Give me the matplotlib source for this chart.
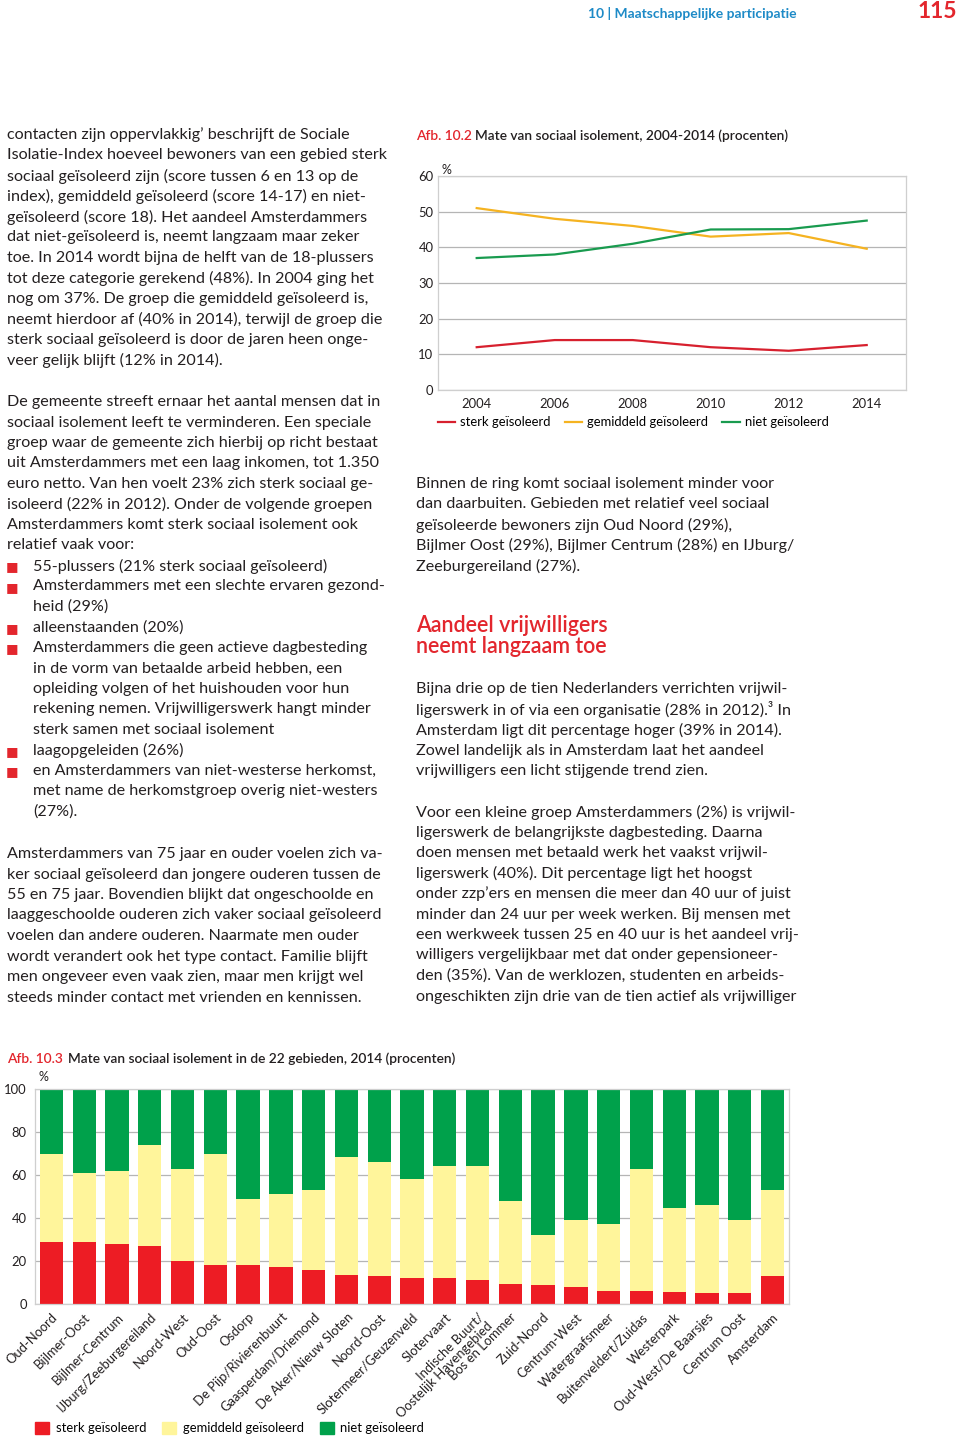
import matplotlib
matplotlib.use("Agg")
import matplotlib.pyplot as plt
from matplotlib.lines import Line2D
from matplotlib.patches import Patch

plt.rcParams['font.family'] = ['Lato', 'DejaVu Sans']

# ---- data: Afb. 10.2 ----
years = [2004, 2006, 2008, 2010, 2012, 2014]
sterk = [12, 14, 14, 12, 11, 12.6]
gemiddeld = [51, 48, 46, 43, 44, 39.6]
niet = [37, 38, 41, 45, 45.1, 47.5]

# ---- data: Afb. 10.3 ----
gebieden = ["Oud-Noord", "Bijlmer-Oost", "Bijlmer-Centrum", "IJburg/Zeeburgereiland",
            "Noord-West", "Oud-Oost", "Osdorp", "De Pijp/Rivierenbuurt",
            "Gaasperdam/Driemond", "De Aker/Nieuw Sloten", "Noord-Oost",
            "Slotermeer/Geuzenveld", "Slotervaart", "Indische Buurt/\nOostelijk Havengebied",
            "Bos en Lommer", "Zuid-Noord", "Centrum-West", "Watergraafsmeer",
            "Buitenveldert/Zuidas", "Westerpark", "Oud-West/De Baarsjes",
            "Centrum Oost", "Amsterdam"]
g_sterk = [29, 29, 28, 27, 20, 18, 18, 17, 16, 13.5, 13, 12, 12, 11, 9.5, 9, 8, 6, 6, 5.5, 5, 5, 13]
g_gem = [41, 32, 34, 47, 43, 52, 31, 34, 37, 55, 53, 46, 52, 53, 38.6, 23, 31, 31, 57, 39, 41, 34, 40]
g_niet = [30, 39, 38, 26, 37, 30, 51, 49, 47, 31.5, 34, 42, 36, 36, 51.9, 68, 61, 63, 37, 55.5, 54, 61, 47]

# ---- page text ----
left1 = ["contacten zijn oppervlakkig’ beschrijft de Sociale",
         "Isolatie-Index hoeveel bewoners van een gebied sterk",
         "sociaal geïsoleerd zijn (score tussen 6 en 13 op de",
         "index), gemiddeld geïsoleerd (score 14-17) en niet-",
         "geïsoleerd (score 18). Het aandeel Amsterdammers",
         "dat niet-geïsoleerd is, neemt langzaam maar zeker",
         "toe. In 2014 wordt bijna de helft van de 18-plussers",
         "tot deze categorie gerekend (48%). In 2004 ging het",
         "nog om 37%. De groep die gemiddeld geïsoleerd is,",
         "neemt hierdoor af (40% in 2014), terwijl de groep die",
         "sterk sociaal geïsoleerd is door de jaren heen onge-",
         "veer gelijk blijft (12% in 2014)."]
left2 = ["De gemeente streeft ernaar het aantal mensen dat in",
         "sociaal isolement leeft te verminderen. Een speciale",
         "groep waar de gemeente zich hierbij op richt bestaat",
         "uit Amsterdammers met een laag inkomen, tot 1.350",
         "euro netto. Van hen voelt 23% zich sterk sociaal ge-",
         "isoleerd (22% in 2012). Onder de volgende groepen",
         "Amsterdammers komt sterk sociaal isolement ook",
         "relatief vaak voor:"]
bullets = [["55-plussers (21% sterk sociaal geïsoleerd)"],
           ["Amsterdammers met een slechte ervaren gezond-", "heid (29%)"],
           ["alleenstaanden (20%)"],
           ["Amsterdammers die geen actieve dagbesteding",
            "in de vorm van betaalde arbeid hebben, een",
            "opleiding volgen of het huishouden voor hun",
            "rekening nemen. Vrijwilligerswerk hangt minder",
            "sterk samen met sociaal isolement"],
           ["laagopgeleiden (26%)"],
           ["en Amsterdammers van niet-westerse herkomst,",
            "met name de herkomstgroep overig niet-westers",
            "(27%)."]]
left3 = ["Amsterdammers van 75 jaar en ouder voelen zich va-",
         "ker sociaal geïsoleerd dan jongere ouderen tussen de",
         "55 en 75 jaar. Bovendien blijkt dat ongeschoolde en",
         "laaggeschoolde ouderen zich vaker sociaal geïsoleerd",
         "voelen dan andere ouderen. Naarmate men ouder",
         "wordt verandert ook het type contact. Familie blijft",
         "men ongeveer even vaak zien, maar men krijgt wel",
         "steeds minder contact met vrienden en kennissen."]
right1 = ["Binnen de ring komt sociaal isolement minder voor",
          "dan daarbuiten. Gebieden met relatief veel sociaal",
          "geïsoleerde bewoners zijn Oud Noord (29%),",
          "Bijlmer Oost (29%), Bijlmer Centrum (28%) en IJburg/",
          "Zeeburgereiland (27%)."]
heading = ["Aandeel vrijwilligers", "neemt langzaam toe"]
right2 = ["Bijna drie op de tien Nederlanders verrichten vrijwil-",
          "ligerswerk in of via een organisatie (28% in 2012).³ In",
          "Amsterdam ligt dit percentage hoger (39% in 2014).",
          "Zowel landelijk als in Amsterdam laat het aandeel",
          "vrijwilligers een licht stijgende trend zien."]
right3 = ["Voor een kleine groep Amsterdammers (2%) is vrijwil-",
          "ligerswerk de belangrijkste dagbesteding. Daarna",
          "doen mensen met betaald werk het vaakst vrijwil-",
          "ligerswerk (40%). Dit percentage ligt het hoogst",
          "onder zzp’ers en mensen die meer dan 40 uur of juist",
          "minder dan 24 uur per week werken. Bij mensen met",
          "een werkweek tussen 25 en 40 uur is het aandeel vrij-",
          "willigers vergelijkbaar met dat onder gepensioneer-",
          "den (35%). Van de werklozen, studenten en arbeids-",
          "ongeschikten zijn drie van de tien actief als vrijwilliger"]

W, H = 960, 1440
TXT = '#231f20'
RED = '#e3262d'
BLUE = '#1d8ac7'
BODY = 11.6
LH = 20.5
TITLE = 9.95

fig = plt.figure(figsize=(W / 100, H / 100), dpi=100)


def put(x, y, s, **kw):
    kw.setdefault('fontsize', BODY)
    kw.setdefault('color', TXT)
    kw.setdefault('va', 'center')
    fig.text(x / W, 1 - y / H, s, **kw)


def block(x, y, lines, **kw):
    for i, s in enumerate(lines):
        put(x, y + i * LH, s, **kw)
    return y + len(lines) * LH


# header
put(588, 13, "10 | Maatschappelijke participatie", color=BLUE, fontsize=10, fontweight='bold')
put(957, 11, "115", color=RED, fontsize=16.5, fontweight='bold', ha='right')

# left column
block(7, 135, left1)
y = block(7, 402, left2)
for item in bullets:
    put(6, y + 1, "■", color=RED, fontsize=9.5, family=['DejaVu Sans'])
    y = block(33, y, item)
block(7, 854, left3)

# right column
block(416, 484, right1)
block(416, 626, heading, color=RED, fontsize=15.5, fontweight='semibold')
block(416, 689, right2)
block(416, 812, right3)

# ---- Afb. 10.2 line chart ----
put(416, 136, "Afb. 10.2", color=RED, fontsize=TITLE, fontweight='semibold')
put(475, 136, "Mate van sociaal isolement, 2004-2014 (procenten)", fontsize=TITLE, fontweight='semibold')

ax1 = fig.add_axes([437.7 / W, 1 - 390 / H, 468 / W, 214 / H])
c_red, c_yel, c_grn = '#d7202e', '#f5b321', '#199b4f'
ax1.plot(years, sterk, color=c_red, lw=1.6)
ax1.plot(years, gemiddeld, color=c_yel, lw=1.6)
ax1.plot(years, niet, color=c_grn, lw=1.6)
ax1.set_xlim(2003, 2015)
ax1.set_ylim(0, 60)
ax1.set_xticks(years)
ax1.set_yticks(range(0, 61, 10))
ax1.grid(axis='y', color='#b5b5b5', lw=0.9)
ax1.set_axisbelow(True)
for sp in ax1.spines.values():
    sp.set_color('#cfcfcf')
    sp.set_linewidth(0.9)
ax1.tick_params(length=0, labelsize=9.4, colors=TXT, pad=6)
ax1.tick_params(axis='y', pad=3)
ax1.text(0.009, 1.0, "%", transform=ax1.transAxes, fontsize=9, color=TXT, ha='left', va='bottom')
h1 = [Line2D([], [], color=c, lw=1.6) for c in (c_red, c_yel, c_grn)]
ax1.legend(h1, ["sterk geïsoleerd", "gemiddeld geïsoleerd", "niet geïsoleerd"],
           ncol=3, frameon=False, loc='center left', bbox_to_anchor=(0.0, -0.15),
           fontsize=9.4, handlelength=1.35, handletextpad=0.35, columnspacing=1.1,
           borderaxespad=0, borderpad=0)

# ---- Afb. 10.3 stacked bars ----
put(7, 1059, "Afb. 10.3", color=RED, fontsize=TITLE, fontweight='semibold')
put(68, 1059, "Mate van sociaal isolement in de 22 gebieden, 2014 (procenten)", fontsize=TITLE, fontweight='semibold')

ax2 = fig.add_axes([35 / W, 1 - 1304 / H, 754 / W, 215 / H])
b_red, b_yel, b_grn = '#ed1c24', '#fff59b', '#00a14b'
xs = list(range(len(gebieden)))
bottom2 = [a + b for a, b in zip(g_sterk, g_gem)]
ax2.bar(xs, g_sterk, width=0.71, color=b_red)
ax2.bar(xs, g_gem, width=0.71, bottom=g_sterk, color=b_yel)
ax2.bar(xs, g_niet, width=0.71, bottom=bottom2, color=b_grn)
ax2.set_xlim(-0.5, len(gebieden) - 0.5)
ax2.set_ylim(0, 100)
ax2.set_yticks(range(0, 101, 20))
ax2.set_xticks(xs)
ax2.set_xticklabels(gebieden, rotation=45, ha='right', va='top', rotation_mode='anchor',
                    fontsize=9.4, color=TXT, linespacing=1.05)
ax2.grid(axis='y', color='#b5b5b5', lw=0.9)
ax2.set_axisbelow(True)
for sp in ax2.spines.values():
    sp.set_color('#cfcfcf')
    sp.set_linewidth(0.9)
ax2.tick_params(length=0, labelsize=9.4, colors=TXT)
ax2.tick_params(axis='x', pad=5)
ax2.tick_params(axis='y', pad=6)
ax2.text(0.004, 1.03, "%", transform=ax2.transAxes, fontsize=9, color=TXT, ha='left', va='bottom')
h2 = [Patch(color=c) for c in (b_red, b_yel, b_grn)]
ax2.legend(h2, ["sterk geïsoleerd", "gemiddeld geïsoleerd", "niet geïsoleerd"],
           ncol=3, frameon=False, loc='center left', bbox_to_anchor=(0.0, -0.577),
           fontsize=9.4, handlelength=1.1, handleheight=1.1, handletextpad=0.5,
           columnspacing=1.2, borderaxespad=0, borderpad=0)

fig.savefig("out.png", dpi=100)
